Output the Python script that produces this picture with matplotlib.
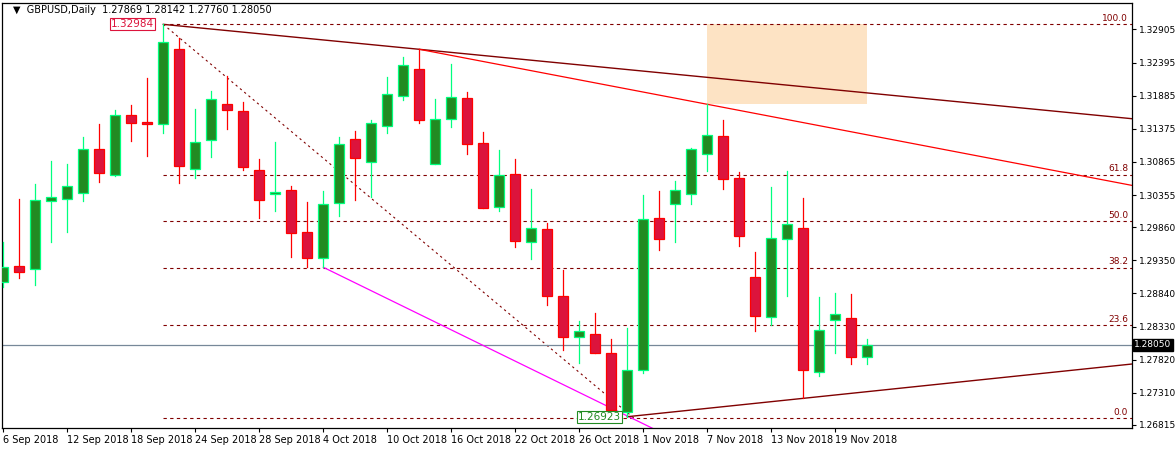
import matplotlib
matplotlib.use("Agg")
import matplotlib.pyplot as plt
from matplotlib.patches import Rectangle

dates = ["6 Sep 2018","12 Sep 2018","18 Sep 2018","24 Sep 2018","28 Sep 2018","4 Oct 2018",
         "10 Oct 2018","16 Oct 2018","22 Oct 2018","26 Oct 2018","1 Nov 2018","7 Nov 2018",
         "13 Nov 2018","19 Nov 2018"]
date_idx = [0,4,8,12,16,20,24,28,32,36,40,44,48,52]

opens = [1.29021,1.29263,1.29212,1.30259,1.30299,1.30391,1.31060,1.30659,1.31583,1.31480,
         1.31445,1.32600,1.30752,1.31198,1.31753,1.31650,1.30736,1.30379,1.30428,1.29786,
         1.29381,1.30228,1.31218,1.30869,1.31423,1.31885,1.32296,1.30838,1.31522,1.31850,
         1.31157,1.30176,1.30679,1.29637,1.29832,1.28801,1.28165,1.28215,1.27923,1.27010,
         1.27661,1.29997,1.30213,1.30367,1.30983,1.31265,1.30613,1.29093,1.28473,1.29674,
         1.29843,1.27630,1.28431,1.28457,1.27869]
highs = [1.29637,1.30294,1.30525,1.30880,1.30833,1.31249,1.31449,1.31665,1.31742,1.32158,
         1.32984,1.32769,1.31673,1.31958,1.32184,1.31788,1.30910,1.31172,1.30495,1.30251,
         1.30418,1.31249,1.31342,1.31511,1.32173,1.32481,1.32600,1.31835,1.32378,1.31942,
         1.31322,1.31049,1.30910,1.30448,1.29929,1.29201,1.28416,1.28539,1.28138,1.28301,
         1.30361,1.30418,1.30572,1.31080,1.31753,1.31511,1.30710,1.29478,1.30479,1.30725,
         1.30310,1.28790,1.28847,1.28831,1.28142]
lows = [1.28944,1.29082,1.28970,1.29637,1.29786,1.30263,1.30556,1.30649,1.31188,1.30957,
        1.31315,1.30545,1.30622,1.30946,1.31377,1.30741,1.30002,1.30110,1.29406,1.29243,
        1.29243,1.30033,1.30279,1.30325,1.31315,1.31819,1.31469,1.30838,1.31403,1.30987,
        1.30160,1.30114,1.29555,1.29370,1.28662,1.27969,1.27773,1.27918,1.26923,1.26942,
        1.27610,1.29514,1.29632,1.30213,1.30730,1.30453,1.29575,1.28266,1.28354,1.28805,
        1.27225,1.27573,1.27927,1.27761,1.27760]
closes = [1.29252,1.29175,1.30274,1.30320,1.30490,1.31067,1.30700,1.31583,1.31469,1.31454,
          1.32708,1.30807,1.31168,1.31830,1.31670,1.30792,1.30284,1.30402,1.29775,1.29390,
          1.30213,1.31137,1.30930,1.31460,1.31907,1.32353,1.31516,1.31522,1.31860,1.31141,
          1.30160,1.30664,1.29652,1.29843,1.28796,1.28174,1.28266,1.27918,1.27045,1.27661,
          1.29982,1.29683,1.30428,1.31060,1.31275,1.30607,1.29729,1.28497,1.29689,1.29905,
          1.27656,1.28273,1.28519,1.27866,1.28050]

yticks = [1.32905,1.32395,1.31885,1.31375,1.30865,1.30355,1.29860,1.29350,1.28840,
          1.28330,1.27820,1.27310,1.26815]
fib_high, fib_low = 1.32984, 1.26923
fib_levels = [0.0, 23.6, 38.2, 50.0, 61.8, 100.0]

fig = plt.figure(figsize=(11.75, 4.49), dpi=100)
ax = fig.add_axes([2/1175, 1-428/449, 1130/1175, 425/449])
ax.set_xlim(-0.08, 70.54)
ax.set_ylim(1.26768, 1.33313)

DR = "#800000"
for lv in fib_levels:
    p = fib_low + (fib_high - fib_low) * lv / 100
    ax.plot([10, 70.54], [p, p], color=DR, lw=0.8, ls=(0, (3, 3)), zorder=1)
    ax.text(70.3, p + 0.0002, f"{lv:.1f}", color=DR, fontsize=6.5, ha="right", va="bottom")
ax.plot([10, 39.4], [fib_high, fib_low], color=DR, lw=0.8, ls=(0, (2, 3)), zorder=1)

ax.add_patch(Rectangle((44, highs[44]), 10, fib_high - highs[44], color="#FDE3C4", lw=0, zorder=0))

def ext_line(i1, p1, i2, p2, x_end, **kw):
    s = (p2 - p1) / (i2 - i1)
    ax.plot([i1, x_end], [p1, p1 + s * (x_end - i1)], **kw)

ext_line(10, highs[10], 26, highs[26], 70.54, color=DR, lw=1, zorder=2)
ext_line(26, highs[26], 44, highs[44], 70.54, color="#FF0000", lw=0.9, zorder=2)
ext_line(20, lows[20], 36.67, 1.27234, 41.0, color="#FF00FF", lw=0.9, zorder=2)
ext_line(39, lows[39], 50, lows[50], 70.54, color=DR, lw=1, zorder=2)

ax.axhline(closes[-1], color="#778899", lw=0.9, zorder=1)

w = 0.62
for i, (o, h, l, c) in enumerate(zip(opens, highs, lows, closes)):
    up = c >= o
    edge = "#00FF7F" if up else "#FF0000"
    face = "#228B22" if up else "#DC143C"
    ax.plot([i, i], [l, h], color=edge, lw=0.9, zorder=3)
    b = min(o, c); hgt = max(abs(c - o), 0.00003)
    ax.add_patch(Rectangle((i - w/2, b), w, hgt, facecolor=face, edgecolor=edge, lw=0.9, zorder=4))

ax.text(9.4, fib_high, "1.32984", color="#DC143C", fontsize=7.5, ha="right", va="center",
        bbox=dict(boxstyle="square,pad=0.1", fc="white", ec="#DC143C", lw=0.8), zorder=6)
ax.text(38.6, fib_low + 0.00015, "1.26923", color="#228B22", fontsize=7.5, ha="right", va="center",
        bbox=dict(boxstyle="square,pad=0.1", fc="white", ec="#228B22", lw=0.8), zorder=6)

ax.text(0.01, 0.995, "\u25bc  GBPUSD,Daily  1.27869 1.28142 1.27760 1.28050", transform=ax.transAxes,
        fontsize=7, va="top", ha="left", color="black")

ax.yaxis.tick_right()
ax.set_yticks(yticks)
ax.set_yticklabels([f"{v:.5f}" for v in yticks], fontsize=6.5)
ax.set_xticks(date_idx)
ax.set_xticklabels(dates, fontsize=7, ha="left")
ax.tick_params(axis="both", length=3, width=0.8, pad=2)
for sp in ax.spines.values():
    sp.set_linewidth(0.9)
ax.text(1.002, closes[-1], f"{closes[-1]:.5f}", transform=ax.get_yaxis_transform(),
        fontsize=6.5, color="white", va="center", ha="left",
        bbox=dict(boxstyle="square,pad=0.15", fc="black", ec="black"), zorder=7, clip_on=False)

fig.savefig("out.png", dpi=100)
